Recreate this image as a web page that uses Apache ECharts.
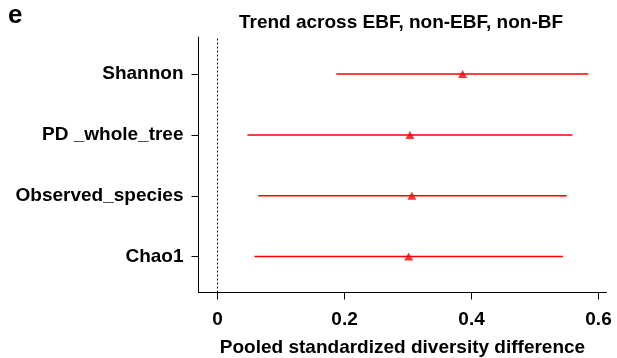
<!DOCTYPE html>
<html>
<head>
<meta charset="utf-8">
<script src="https://cdn.jsdelivr.net/npm/echarts@6/dist/echarts.min.js"></script>
<style>html,body{margin:0;padding:0;background:#fff}#c{width:617px;height:358px}</style>
</head>
<body>
<div id="c"></div>
<script>
const categories = ['Chao1', 'Observed_species', 'PD _whole_tree', 'Shannon'];
const catPos = [1, 2, 3, 4];
const estimates = [0.301, 0.306, 0.303, 0.386];
const lower = [0.058, 0.064, 0.047, 0.187];
const upper = [0.544, 0.550, 0.559, 0.584];
const xTicks = [0, 0.2, 0.4, 0.6];
const titleText = 'Trend across EBF, non-EBF, non-BF';
const xName = 'Pooled standardized diversity difference';
const panelLabel = 'e';

const FONT = '"Liberation Sans", Arial, sans-serif';
const Y_MIN = 0.41, Y_MAX = 4.61;

const chart = echarts.init(document.getElementById('c'), null, {renderer: 'canvas'});
const barData = catPos.map((y, i) => [lower[i], upper[i], y]);
const ptData = catPos.map((y, i) => [estimates[i], y]);

chart.setOption({
  animation: false,
  backgroundColor: '#fff',
  title: [
    {text: titleText, left: 396, top: 8, textAlign: 'center',
     textStyle: {fontFamily: FONT, fontWeight: 'bold', fontSize: 19, color: '#000'}},
    {text: panelLabel, left: 3, top: -2,
     textStyle: {fontFamily: FONT, fontWeight: 'bold', fontSize: 26, color: '#000'}}
  ],
  grid: {left: 198.5, right: 10.5, top: 37, bottom: 65.5, containLabel: false, outerBoundsMode: 'none'},
  xAxis: {
    type: 'value', min: -0.030, max: 0.6126,
    name: xName, nameLocation: 'middle', nameGap: 46,
    nameTextStyle: {fontFamily: FONT, fontWeight: 'bold', fontSize: 19, color: '#000'},
    axisLine: {show: true, onZero: false, lineStyle: {color: '#000', width: 1}},
    axisTick: {show: true, length: 7, customValues: xTicks, lineStyle: {color: '#000'}},
    axisLabel: {customValues: xTicks, margin: 18, fontFamily: FONT, fontWeight: 'bold', fontSize: 19, color: '#000',
      formatter: v => String(v)},
    splitLine: {show: false}
  },
  yAxis: {
    type: 'value', min: Y_MIN, max: Y_MAX,
    axisLine: {show: true, onZero: false, lineStyle: {color: '#000', width: 1}},
    axisTick: {show: true, length: 7, customValues: catPos, lineStyle: {color: '#000'}},
    axisLabel: {customValues: catPos, margin: 15, fontFamily: FONT, fontWeight: 'bold', fontSize: 19, color: '#000',
      formatter: v => categories[catPos.indexOf(Math.round(v))] || ''},
    splitLine: {show: false}
  },
  series: [
    {
      type: 'line', data: [[0, Y_MIN], [0, Y_MAX]], symbol: 'none', silent: true,
      lineStyle: {color: '#000', width: 1, type: [2, 2]}
    },
    {
      type: 'custom', data: barData, encode: {x: [0, 1], y: 2},
      renderItem: (params, api) => {
        const a = api.coord([api.value(0), api.value(2)]);
        const b = api.coord([api.value(1), api.value(2)]);
        return {type: 'line', shape: {x1: a[0], y1: a[1], x2: b[0], y2: b[1]},
                style: {stroke: '#ff0000', lineWidth: 1.5}};
      }
    },
    {
      type: 'scatter', data: ptData, symbol: 'triangle', symbolSize: [9, 8],
      itemStyle: {color: '#ff0000'}
    }
  ]
});
</script>
</body>
</html>
